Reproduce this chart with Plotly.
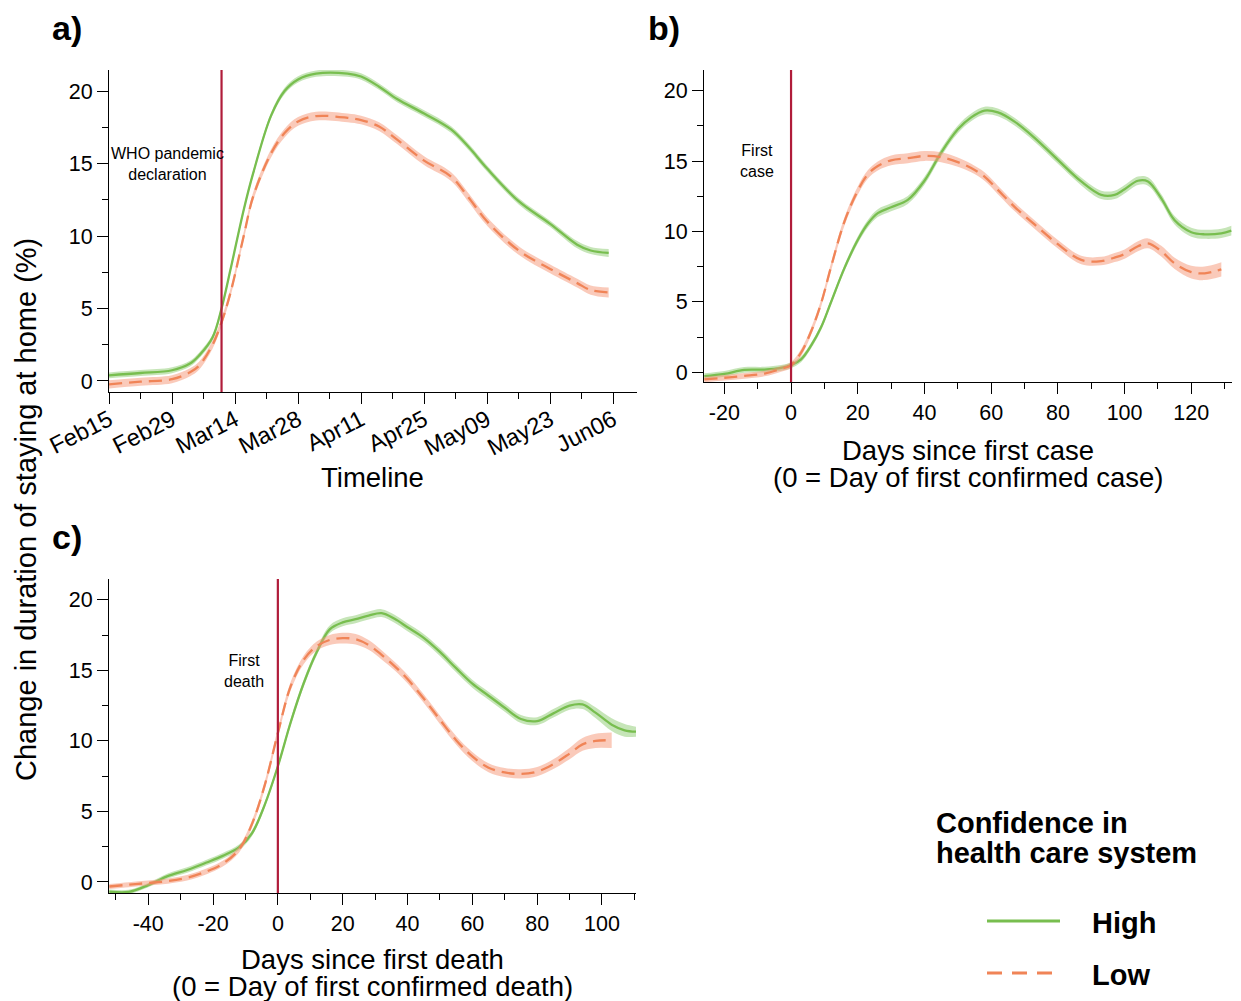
import plotly.graph_objects as go

OFF = 8  # page body margin
W, H = 1241 - OFF, 1001 - OFF

# ---------------- data ----------------
# Panel a: timeline
dates_a = ["2020-02-15", "2020-02-22", "2020-02-29", "2020-03-04", "2020-03-06", "2020-03-09",
           "2020-03-11", "2020-03-13", "2020-03-16", "2020-03-18", "2020-03-22", "2020-03-25",
           "2020-03-28", "2020-04-01", "2020-04-08", "2020-04-11", "2020-04-15", "2020-04-19",
           "2020-04-25", "2020-05-01", "2020-05-05", "2020-05-09", "2020-05-16", "2020-05-23",
           "2020-05-29", "2020-06-01", "2020-06-05"]
high_a = [0.39, 0.55, 0.74, 1.2, 1.75, 3.0, 5.0, 7.7, 11.9, 14.3, 18.3, 20.0, 20.8, 21.2, 21.2,
          21.0, 20.3, 19.45, 18.45, 17.35, 16.1, 14.65, 12.4, 10.84, 9.4, 9.0, 8.83]
low_a = [-0.23, -0.05, 0.12, 0.6, 1.05, 2.5, 4.05, 6.1, 10.1, 12.7, 15.7, 17.1, 17.9, 18.27, 18.15,
         18.0, 17.55, 16.65, 15.2, 14.1, 12.6, 11.0, 9.0, 7.73, 6.75, 6.27, 6.1]
ci_high_a = [0.2, 0.2, 0.2, 0.2, 0.2, 0.2, 0.2, 0.2, 0.2, 0.2, 0.2, 0.22, 0.22, 0.22, 0.22,
             0.22, 0.22, 0.22, 0.22, 0.22, 0.22, 0.22, 0.22, 0.22, 0.25, 0.25, 0.27]
ci_low_a = [0.28, 0.28, 0.28, 0.28, 0.28, 0.28, 0.28, 0.28, 0.28, 0.28, 0.28, 0.3, 0.3, 0.3, 0.3,
            0.3, 0.3, 0.3, 0.3, 0.3, 0.3, 0.3, 0.3, 0.3, 0.3, 0.32, 0.35]
who_date = "2020-03-11"

# Panel b: days since first case
days_b = [-26, -20, -14, -8, -3, 0, 3, 6, 9, 12, 16, 20, 23, 26, 30, 35, 40, 45, 50, 54, 58, 62,
          67, 73, 80, 87, 93, 97, 100, 104, 107, 111, 115, 120, 124, 129, 132]
high_b = [-0.26, -0.1, 0.18, 0.2, 0.32, 0.52, 0.93, 1.9, 3.2, 5.0, 7.4, 9.4, 10.55, 11.3, 11.72,
          12.24, 13.6, 15.6, 17.25, 18.1, 18.58, 18.45, 17.8, 16.65, 15.08, 13.55, 12.6, 12.6,
          13.0, 13.6, 13.55, 12.35, 10.8, 9.95, 9.8, 9.87, 10.06]
low_b = [-0.5, -0.38, -0.25, -0.08, 0.25, 0.52, 1.4, 2.9, 4.9, 7.5, 10.7, 12.9, 14.05, 14.65,
         15.05, 15.2, 15.36, 15.27, 14.92, 14.5, 13.9, 12.95, 11.75, 10.5, 9.1, 7.98, 7.9, 8.15,
         8.4, 8.95, 9.16, 8.6, 7.74, 7.12, 7.03, 7.31]
ci_high_b = [0.2, 0.2, 0.2, 0.2, 0.2, 0.2, 0.2, 0.2, 0.2, 0.2, 0.22, 0.25, 0.27, 0.28, 0.28,
             0.28, 0.28, 0.28, 0.28, 0.28, 0.28, 0.28, 0.28, 0.28, 0.28, 0.28, 0.3, 0.3, 0.3,
             0.3, 0.3, 0.3, 0.3, 0.32, 0.32, 0.33, 0.35]
ci_low_b = [0.2, 0.2, 0.2, 0.2, 0.2, 0.22, 0.25, 0.25, 0.25, 0.28, 0.3, 0.3, 0.3, 0.32, 0.35,
            0.35, 0.35, 0.35, 0.33, 0.3, 0.3, 0.3, 0.3, 0.3, 0.3, 0.3, 0.3, 0.32, 0.33, 0.35,
            0.35, 0.38, 0.4, 0.45, 0.48, 0.5]
first_case_day = 0

# Panel c: days since first death
days_c = [-52, -46, -40, -34, -28, -22, -17, -12, -8, -4, 0, 4, 8, 12, 16, 20, 24, 28, 32, 36,
          40, 45, 50, 55, 60, 65, 70, 75, 80, 85, 90, 94, 98, 103, 107, 110.5]
high_c = [-0.68, -0.7, -0.22, 0.42, 0.85, 1.38, 1.85, 2.45, 3.45, 5.5, 8.2, 11.35, 14.1, 16.3,
          17.9, 18.4, 18.62, 18.88, 19.05, 18.65, 18.05, 17.3, 16.3, 15.15, 14.05, 13.2, 12.35,
          11.55, 11.4, 11.95, 12.5, 12.58, 12.0, 11.15, 10.75, 10.65]
low_c = [-0.32, -0.19, -0.07, 0.06, 0.3, 0.75, 1.3, 2.3, 4.1, 6.9, 10.55, 13.9, 15.75, 16.72,
         17.15, 17.28, 17.2, 16.8, 16.1, 15.3, 14.38, 13.0, 11.5, 10.05, 8.9, 8.1, 7.76, 7.66,
         7.82, 8.35, 9.1, 9.75, 10.0, 10.04]
ci_high_c = [0.15, 0.15, 0.15, 0.18, 0.2, 0.2, 0.2, 0.2, 0.2, 0.2, 0.2, 0.22, 0.25, 0.25, 0.28,
             0.28, 0.28, 0.28, 0.28, 0.28, 0.28, 0.28, 0.28, 0.28, 0.28, 0.28, 0.28, 0.28, 0.28,
             0.3, 0.3, 0.32, 0.38, 0.45, 0.45, 0.35]
ci_low_c = [0.18, 0.18, 0.18, 0.18, 0.2, 0.2, 0.2, 0.22, 0.25, 0.28, 0.3, 0.3, 0.3, 0.32, 0.35,
            0.38, 0.38, 0.35, 0.33, 0.3, 0.3, 0.3, 0.3, 0.3, 0.32, 0.32, 0.32, 0.33, 0.33, 0.35,
            0.4, 0.45, 0.5, 0.55]
first_death_day = 0

x_ticks_a = ["2020-02-15", "2020-02-29", "2020-03-14", "2020-03-28", "2020-04-11",
             "2020-04-25", "2020-05-09", "2020-05-23", "2020-06-06"]
x_ticktext_a = ["Feb15", "Feb29", "Mar14", "Mar28", "Apr11", "Apr25", "May09", "May23", "Jun06"]
x_ticks_b = [-20, 0, 20, 40, 60, 80, 100, 120]
x_ticks_c = [-40, -20, 0, 20, 40, 60, 80, 100]
y_ticks = [0, 5, 10, 15, 20]

# ---------------- style ----------------
FONT = "Liberation Sans, Arial, sans-serif"
GREEN = "#78be4f"
GREEN_BAND = "rgba(128,198,98,0.45)"
ORANGE = "#f08457"
ORANGE_BAND = "rgba(246,150,118,0.5)"
RED = "#b01c3a"


def px_x(p):
    return (p - OFF) / W


def px_y(p):
    return 1 - (p - OFF) / H


fig = go.Figure()


def add_series(x, y, ci, color, band, dash, xa, ya):
    lo = [v - c for v, c in zip(y, ci)]
    hi = [v + c for v, c in zip(y, ci)]
    fig.add_trace(go.Scatter(x=x, y=lo, mode="lines", line=dict(width=0, shape="spline"),
                             xaxis=xa, yaxis=ya, showlegend=False, hoverinfo="skip"))
    fig.add_trace(go.Scatter(x=x, y=hi, mode="lines", line=dict(width=0, shape="spline"),
                             fill="tonexty", fillcolor=band,
                             xaxis=xa, yaxis=ya, showlegend=False, hoverinfo="skip"))
    fig.add_trace(go.Scatter(x=x, y=y, mode="lines",
                             line=dict(color=color, width=2.3, dash=dash, shape="spline"),
                             xaxis=xa, yaxis=ya, showlegend=False))


DASH = "13px,7px"
add_series(dates_a, high_a, ci_high_a, GREEN, GREEN_BAND, "solid", "x", "y")
add_series(dates_a, low_a, ci_low_a, ORANGE, ORANGE_BAND, DASH, "x", "y")
add_series(days_b, high_b, ci_high_b, GREEN, GREEN_BAND, "solid", "x2", "y2")
add_series(days_b[:len(low_b)], low_b, ci_low_b, ORANGE, ORANGE_BAND, DASH, "x2", "y2")
add_series(days_c, high_c, ci_high_c, GREEN, GREEN_BAND, "solid", "x3", "y3")
add_series(days_c[:len(low_c)], low_c, ci_low_c, ORANGE, ORANGE_BAND, DASH, "x3", "y3")

tickfont = dict(family=FONT, size=21.5, color="black")
common = dict(showline=True, linecolor="black", linewidth=1.2, ticks="outside", ticklen=11,
              tickcolor="black", tickwidth=1.2, showgrid=False, zeroline=False,
              tickfont=tickfont, automargin=False)
yminor = dict(ticks="outside", ticklen=6, tickcolor="black", tickwidth=1.2, dtick=2.5)
xminor = dict(ticks="outside", ticklen=6, tickcolor="black", tickwidth=1.2, dtick=10)


def labels(vals):
    return [str(v) for v in vals]  # plain hyphen-minus as in the reference


fig.update_layout(
    template="none",
    width=W, height=H,
    margin=dict(l=0, r=0, t=0, b=0),
    paper_bgcolor="white", plot_bgcolor="white",
    font=dict(family=FONT, color="black"),
    showlegend=False,
    xaxis=dict(domain=[px_x(109), px_x(637)], anchor="y", type="date",
               range=["2020-02-15", "2020-06-11 07:00"],
               tickvals=x_ticks_a, ticktext=x_ticktext_a, tickangle=-27,
               ticklabelstandoff=-7,
               minor=dict(ticks="outside", ticklen=6, tickcolor="black", tickwidth=1.2,
                          dtick=7 * 86400000, tick0="2020-02-15"),
               **{**common, "tickfont": dict(family=FONT, size=23.5, color="black")}),
    yaxis=dict(domain=[px_y(392), px_y(70)], anchor="x", range=[-0.76, 21.45],
               tickvals=y_ticks, ticktext=labels(y_ticks), minor=yminor, **common),
    xaxis2=dict(domain=[px_x(704), px_x(1232)], anchor="y2", range=[-26.1, 132.2],
                tickvals=x_ticks_b, ticktext=labels(x_ticks_b), minor=xminor, **common),
    yaxis2=dict(domain=[px_y(382), px_y(70)], anchor="x2", range=[-0.68, 21.46],
                tickvals=y_ticks, ticktext=labels(y_ticks), minor=yminor, **common),
    xaxis3=dict(domain=[px_x(109), px_x(636)], anchor="y3", range=[-52.1, 110.5],
                tickvals=x_ticks_c, ticktext=labels(x_ticks_c), minor=xminor, **common),
    yaxis3=dict(domain=[px_y(893), px_y(579)], anchor="x3", range=[-0.78, 21.47],
                tickvals=y_ticks, ticktext=labels(y_ticks), minor=yminor, **common),
)

# event lines
for xv, xr, yr in [(who_date, "x", "y domain"), (first_case_day, "x2", "y2 domain"),
                   (first_death_day, "x3", "y3 domain")]:
    fig.add_shape(type="line", x0=xv, x1=xv, xref=xr, y0=0, y1=1, yref=yr,
                  line=dict(color=RED, width=2.2))

ann = []


def text(x, y, s, size, bold=False, xanchor="center", angle=0):
    if bold:
        s = "<b>" + s + "</b>"
    ann.append(dict(x=px_x(x), y=px_y(y), xref="paper", yref="paper", text=s, showarrow=False,
                    xanchor=xanchor, yanchor="middle", textangle=angle,
                    font=dict(family=FONT, size=size, color="black")))


# panel labels
text(50, 28, "a)", 34, bold=True, xanchor="left")
text(646, 28, "b)", 34, bold=True, xanchor="left")
text(50, 537, "c)", 34, bold=True, xanchor="left")

# event annotations
text(167, 164, "WHO pandemic<br>declaration", 16)
text(757, 161, "First<br>case", 16)
text(244, 671, "First<br>death", 16)

# axis titles
text(26, 510, "Change in duration of staying at home (%)", 29, angle=-90)
text(372, 477, "Timeline", 27.5)
text(968, 450, "Days since first case", 27.5)
text(968, 477, "(0 = Day of first confirmed case)", 27.5)
text(372, 959, "Days since first death", 27.5)
text(372, 986, "(0 = Day of first confirmed death)", 27.5)

# legend
text(934, 823, "Confidence in", 29, bold=True, xanchor="left")
text(934, 853, "health care system", 29, bold=True, xanchor="left")
text(1090, 923, "High", 29, bold=True, xanchor="left")
text(1090, 975, "Low", 29, bold=True, xanchor="left")
fig.add_shape(type="line", xref="paper", yref="paper", x0=px_x(987), x1=px_x(1060),
              y0=px_y(921), y1=px_y(921), line=dict(color=GREEN, width=3))
fig.add_shape(type="line", xref="paper", yref="paper", x0=px_x(987), x1=px_x(1060),
              y0=px_y(973), y1=px_y(973), line=dict(color=ORANGE, width=3, dash="15px,10px"))

fig.update_layout(annotations=ann)
fig.write_html("out.html")
